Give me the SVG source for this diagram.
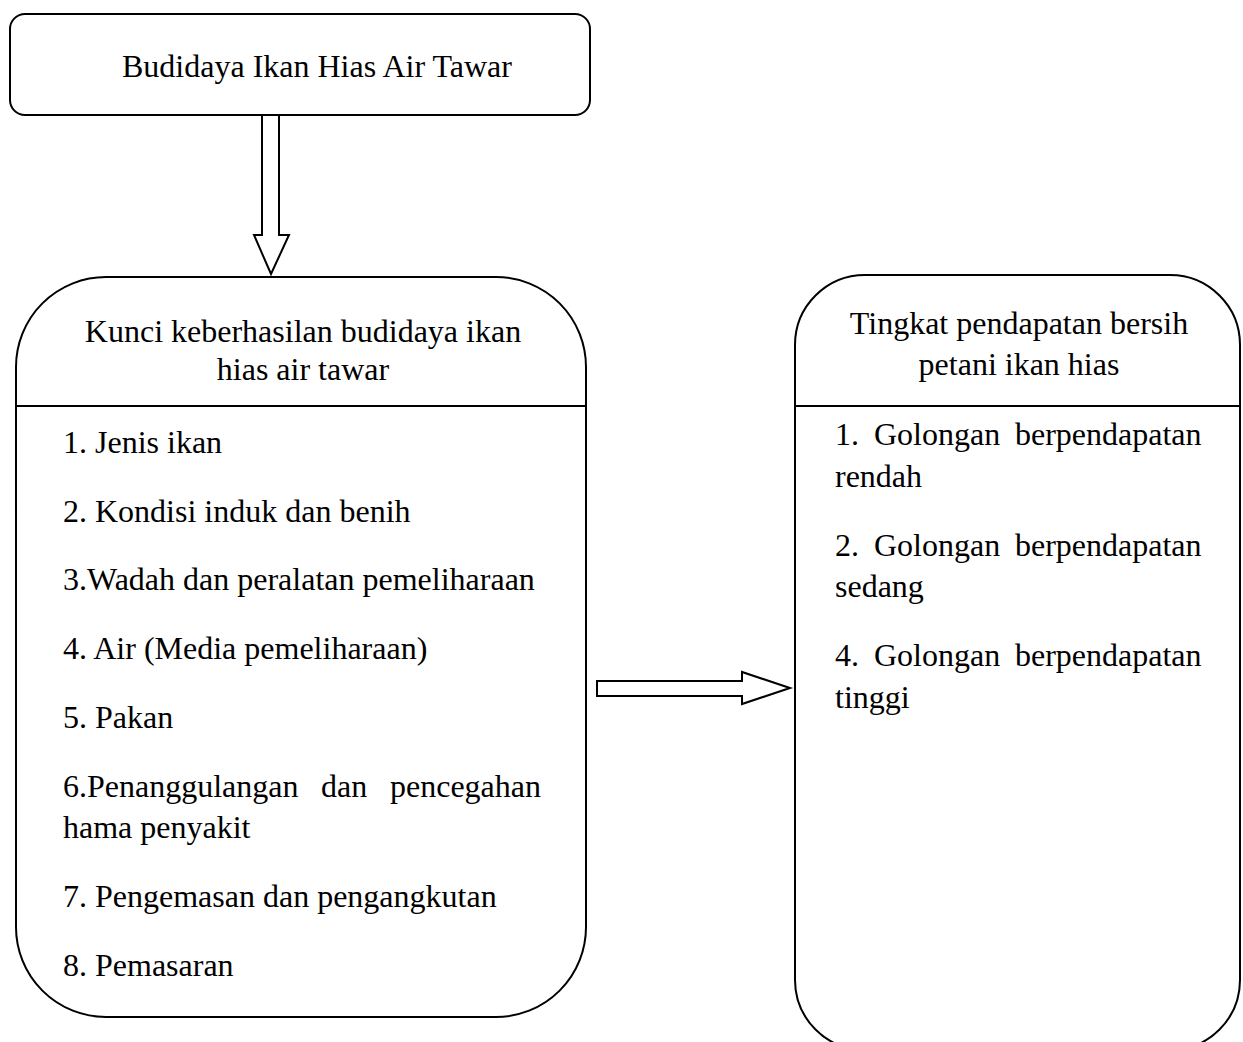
<svg xmlns="http://www.w3.org/2000/svg" width="1243" height="1042" viewBox="0 0 1243 1042">
<style>
.box{fill:#fff;stroke:#000;stroke-width:2}
.arr{fill:#fff;stroke:#000;stroke-width:2;stroke-linejoin:miter}
.t{font-family:"Liberation Serif","Times New Roman",serif;font-size:32px;fill:#000}
.c{text-anchor:middle}
</style>
<rect width="1243" height="1042" fill="#fff"/>
<g id="connectors">
<polygon class="arr" points="262,115 279,115 279,235 289,235 271,274 254,235 262,235"/>
<polygon class="arr" points="597,681 742,681 742,672 790,688 742,704 742,696 597,696"/>
</g>
<g id="node-top">
<rect class="box" x="10" y="14" width="580" height="101" rx="15" ry="15"/>
<text class="t" x="122" y="77">Budidaya Ikan Hias Air Tawar</text>
</g>
<g id="node-kunci">
<path class="box" d="M106,277 H496 A90,90 0 0 1 586,367 V927 A90,90 0 0 1 496,1017 H106 A90,90 0 0 1 16,927 V367 A90,90 0 0 1 106,277 Z"/>
<line x1="16" y1="406" x2="586" y2="406" stroke="#000" stroke-width="2"/>
<text class="t c" x="303" y="342">Kunci keberhasilan budidaya ikan</text>
<text class="t c" x="303" y="380">hias air tawar</text>
<text class="t" x="63" y="453">1. Jenis ikan</text>
<text class="t" x="63" y="522">2. Kondisi induk dan benih</text>
<text class="t" x="63" y="590">3.Wadah dan peralatan pemeliharaan</text>
<text class="t" x="63" y="659">4. Air (Media pemeliharaan)</text>
<text class="t" x="63" y="728">5. Pakan</text>
<text class="t" y="797"><tspan x="63">6.Penanggulangan</tspan><tspan x="321">dan</tspan><tspan x="390">pencegahan</tspan></text>
<text class="t" x="63" y="838">hama penyakit</text>
<text class="t" x="63" y="907">7. Pengemasan dan pengangkutan</text>
<text class="t" x="63" y="976">8. Pemasaran</text>
</g>
<g id="node-tingkat">
<path class="box" d="M865,275 H1170 A70,70 0 0 1 1240,345 V980 A70,70 0 0 1 1170,1050 H865 A70,70 0 0 1 795,980 V345 A70,70 0 0 1 865,275 Z"/>
<line x1="795" y1="406" x2="1240" y2="406" stroke="#000" stroke-width="2"/>
<text class="t c" x="1019" y="334">Tingkat pendapatan bersih</text>
<text class="t c" x="1019" y="375">petani ikan hias</text>
<text class="t" y="445"><tspan x="835">1.</tspan><tspan x="874">Golongan</tspan><tspan x="1015">berpendapatan</tspan></text>
<text class="t" x="835" y="487">rendah</text>
<text class="t" y="556"><tspan x="835">2.</tspan><tspan x="874">Golongan</tspan><tspan x="1015">berpendapatan</tspan></text>
<text class="t" x="835" y="597">sedang</text>
<text class="t" y="666"><tspan x="835">4.</tspan><tspan x="874">Golongan</tspan><tspan x="1015">berpendapatan</tspan></text>
<text class="t" x="835" y="708">tinggi</text>
</g>
</svg>
